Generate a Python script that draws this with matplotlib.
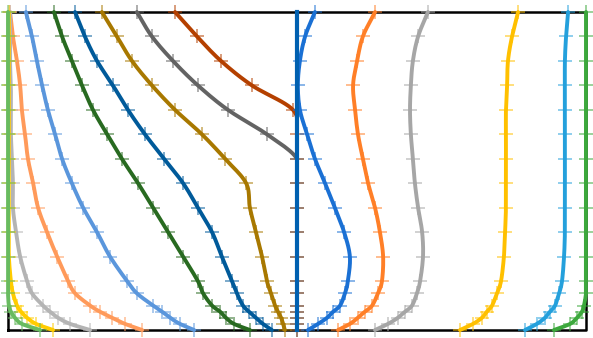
import matplotlib
matplotlib.use("Agg")
import numpy as np
import matplotlib.pyplot as plt
from matplotlib.colors import to_rgba

# Waterline heights (top to bottom)
waterlines = [13, 12, 11, 10, 9, 8, 7, 6, 5, 4, 3, 2, 1.5, 1, 0.75, 0.5, 0.25, 0]

# Aft stations (left half), half-breadth offsets
aft_brown = [0.422, 0.346, 0.263, 0.156, 0.014, 0, 0, 0, 0, 0, 0, 0, 0, 0, 0, 0, 0, 0]
aft_darkgrey = [0.554, 0.502, 0.429, 0.343, 0.239, 0.104, 0.0, 0, 0, 0, 0, 0, 0, 0, 0, 0, 0, 0]
aft_gold = [0.675, 0.623, 0.571, 0.502, 0.422, 0.329, 0.249, 0.176, 0.163, 0.142, 0.121, 0.104,
            0.090, 0.076, 0.066, 0.055, 0.048, 0.042]
aft_darkblue = [0.768, 0.734, 0.692, 0.637, 0.585, 0.526, 0.460, 0.394, 0.343, 0.294, 0.260, 0.225,
                0.208, 0.187, 0.166, 0.142, 0.118, 0.087]
aft_darkgreen = [0.841, 0.813, 0.779, 0.744, 0.706, 0.657, 0.606, 0.550, 0.498, 0.446, 0.394, 0.343,
                 0.325, 0.294, 0.266, 0.246, 0.218, 0.163]
aft_lightblue = [0.938, 0.917, 0.900, 0.882, 0.862, 0.837, 0.813, 0.779, 0.740, 0.692, 0.647, 0.588,
                 0.554, 0.498, 0.467, 0.439, 0.405, 0.356]
aft_lightorange = [0.993, 0.983, 0.969, 0.958, 0.952, 0.941, 0.931, 0.913, 0.896, 0.865, 0.830, 0.792,
                   0.768, 0.716, 0.682, 0.640, 0.595, 0.536]
aft_lightgrey = [0.993, 0.993, 0.993, 0.990, 0.990, 0.990, 0.986, 0.983, 0.983, 0.972, 0.958, 0.934,
                 0.917, 0.879, 0.855, 0.827, 0.785, 0.716]
aft_yellow = [0.997, 0.997, 0.997, 0.997, 0.997, 0.997, 0.997, 0.997, 0.997, 0.997, 0.997, 0.990,
              0.983, 0.969, 0.955, 0.934, 0.903, 0.844]
aft_green = [1.0, 1.0, 1.0, 1.0, 1.0, 1.0, 1.0, 1.0, 1.0, 1.0, 1.0, 1.0,
             1.0, 0.997, 0.990, 0.976, 0.952, 0.889]

# Fore stations (right half)
fore_blue = [0.062, 0.028, 0.010, 0.003, 0.010, 0.035, 0.062, 0.097, 0.131, 0.163, 0.183, 0.176,
             0.166, 0.149, 0.125, 0.104, 0.073, 0.038]
fore_orange = [0.270, 0.228, 0.208, 0.194, 0.201, 0.211, 0.228, 0.246, 0.270, 0.287, 0.298, 0.294,
               0.280, 0.260, 0.235, 0.211, 0.183, 0.142]
fore_grey = [0.453, 0.419, 0.401, 0.394, 0.391, 0.394, 0.401, 0.408, 0.419, 0.433, 0.436, 0.426,
             0.415, 0.398, 0.374, 0.349, 0.315, 0.270]
fore_yellow = [0.765, 0.744, 0.730, 0.727, 0.723, 0.723, 0.723, 0.723, 0.723, 0.720, 0.716, 0.706,
               0.692, 0.675, 0.657, 0.640, 0.609, 0.564]
fore_lightblue = [0.938, 0.931, 0.927, 0.927, 0.927, 0.927, 0.927, 0.927, 0.927, 0.927, 0.924, 0.917,
                  0.907, 0.893, 0.875, 0.858, 0.830, 0.789]
fore_green = [1.0, 1.0, 1.0, 1.0, 1.0, 1.0, 1.0, 1.0, 1.0, 1.0, 1.0, 1.0,
              1.0, 0.993, 0.986, 0.969, 0.945, 0.889]

centerline = [0.0] * len(waterlines)

aft = [
    (aft_brown, "#b44000"),
    (aft_darkgrey, "#636363"),
    (aft_gold, "#a87800"),
    (aft_darkblue, "#005a9a"),
    (aft_darkgreen, "#286a20"),
    (aft_lightblue, "#5a96dc"),
    (aft_lightorange, "#ff9a5a"),
    (aft_lightgrey, "#b4b4b4"),
    (aft_yellow, "#ffcc00"),
    (aft_green, "#68bb60"),
]
fore = [
    (fore_blue, "#1a70d4"),
    (fore_orange, "#ff7f27"),
    (fore_grey, "#a6a6a6"),
    (fore_yellow, "#ffc000"),
    (fore_lightblue, "#24a0dc"),
    (fore_green, "#3ca83c"),
]

fig = plt.figure(figsize=(5.93, 3.38), dpi=100)
ax = fig.add_axes([0, 0, 1, 1])
ax.set_xlim(-297 / 289, 296 / 289)
ax.set_ylim(-8 / 24.46, 330 / 24.46)
ax.axis("off")

# hull frame
ax.plot([-1, 1, 1, -1, -1], [0, 0, 13, 13, 0], color="black", lw=1.8, zorder=1)


def smooth(x, y, n=12):
    """Simple Catmull-Rom curve through the given points."""
    x = np.asarray(x, float)
    y = np.asarray(y, float)
    px = np.concatenate([[2 * x[0] - x[1]], x, [2 * x[-1] - x[-2]]])
    py = np.concatenate([[2 * y[0] - y[1]], y, [2 * y[-1] - y[-2]]])
    t = np.linspace(0, 1, n, endpoint=False)
    ox, oy = [], []
    for i in range(1, len(px) - 2):
        for arr, out in ((px, ox), (py, oy)):
            p0, p1, p2, p3 = arr[i - 1], arr[i], arr[i + 1], arr[i + 2]
            out.extend(0.5 * (2 * p1 + (-p0 + p2) * t + (2 * p0 - 5 * p1 + 4 * p2 - p3) * t ** 2
                              + (-p0 + 3 * p1 - 3 * p2 + p3) * t ** 3))
    ox.append(x[-1])
    oy.append(y[-1])
    return np.array(ox), np.array(oy)


def draw(xs, color, sign):
    xv = [sign * v for v in xs]
    sx, sy = smooth(xv, waterlines)
    sx = sign * np.clip(sign * sx, 0, 1)
    ax.plot(sx, sy, color=color, lw=2.8, solid_joinstyle="round",
            solid_capstyle="round", zorder=2)
    ax.plot(xv, waterlines, linestyle="none", marker="+", markersize=10,
            markeredgewidth=1.2, markeredgecolor=to_rgba(color, 0.6), zorder=2)


for xs, c in aft:
    draw(xs, c, -1)

ax.plot(centerline, waterlines, color="#0060b0", lw=3.0, zorder=3)

for xs, c in fore:
    draw(xs, c, 1)

fig.savefig("out.png", dpi=100)
